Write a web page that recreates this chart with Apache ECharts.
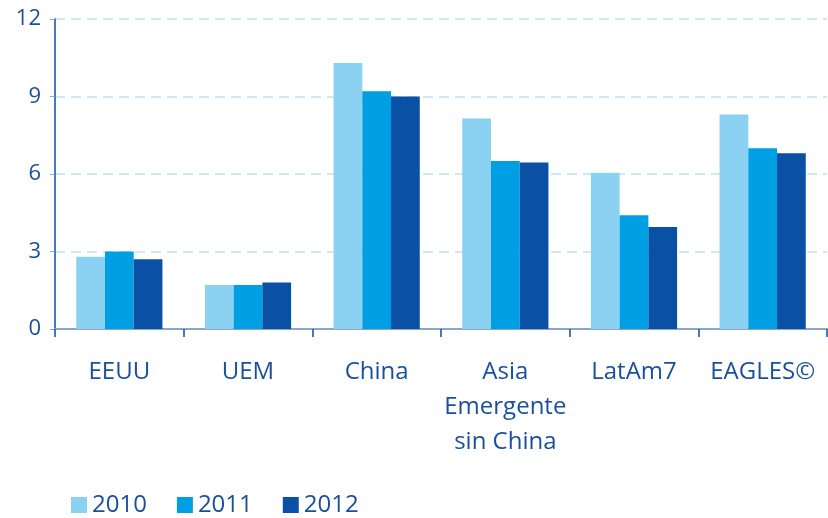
<!DOCTYPE html>
<html>
<head>
<meta charset="utf-8">
<script src="https://cdn.jsdelivr.net/npm/echarts@6/dist/echarts.min.js"></script>
<style>
  html, body { margin: 0; padding: 0; background: #fff; }
  #grafico { width: 828px; height: 518px; }
</style>
</head>
<body>
<div id="grafico"></div>
<script>
var categorias = ['EEUU', 'UEM', 'China', 'Asia\nEmergente\nsin China', 'LatAm7', 'EAGLES©'];
var anios = ['2010', '2011', '2012'];
var datos_2010 = [2.8, 1.7, 10.3, 8.15, 6.05, 8.3];
var datos_2011 = [3.0, 1.7, 9.2, 6.5, 4.4, 7.0];
var datos_2012 = [2.7, 1.8, 9.0, 6.45, 3.95, 6.8];
var colores = ['#8bd1f2', '#009fe3', '#0a51a5'];

var azul_texto = '#1a4f9c';
var fuente = 'Open Sans';

var myChart01 = echarts.init(document.getElementById('grafico'));

var colecciones = [datos_2010, datos_2011, datos_2012].map(function (serie, i) {
    return {
        name: anios[i],
        type: 'bar',
        data: serie,
        barGap: '0%',
        barCategoryGap: '33%',
        itemStyle: { color: colores[i] }
    };
});

var option = {
    animation: false,
    color: colores,
    grid: { left: 55, right: 1, top: 19, bottom: 189 },
    legend: {
        data: anios,
        left: 66,
        bottom: -4,
        icon: 'rect',
        itemWidth: 16,
        itemHeight: 16,
        itemGap: 30,
        textStyle: { color: azul_texto, fontSize: 24, fontFamily: fuente, padding: [0, 0, 0, 0] }
    },
    xAxis: {
        type: 'category',
        data: categorias,
        axisLine: { lineStyle: { color: '#8aa6d0', width: 2 } },
        axisTick: { show: true, length: 8, lineStyle: { color: '#0b4ea2', width: 1.5 } },
        axisLabel: {
            color: azul_texto, fontSize: 24, fontFamily: fuente,
            margin: 26, lineHeight: 35, interval: 0
        }
    },
    yAxis: {
        type: 'value',
        min: 0,
        max: 12,
        interval: 3,
        axisLine: { show: true, lineStyle: { color: '#0b4ea2', width: 1.5 } },
        axisTick: { show: true, length: 5, inside: false, lineStyle: { color: '#8aa6d0' } },
        axisLabel: { color: azul_texto, fontSize: 22, fontFamily: fuente, margin: 14 },
        splitLine: { lineStyle: { color: '#cfe8f5', width: 2, type: [10, 6] } }
    },
    series: colecciones
};

myChart01.setOption(option, true);
</script>
</body>
</html>
